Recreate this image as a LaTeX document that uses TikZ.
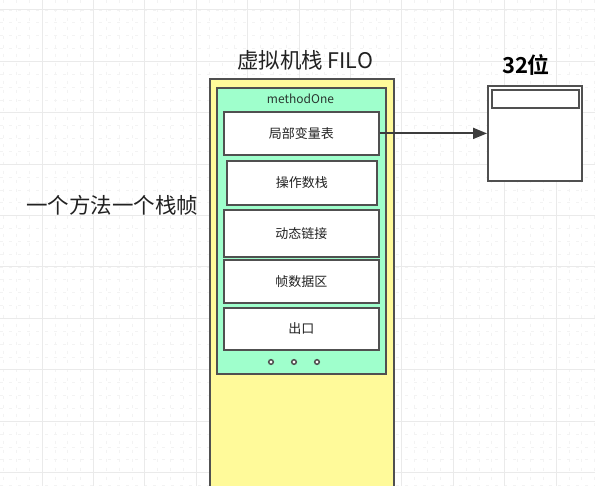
\documentclass[tikz,border=0pt]{standalone}
\usepackage{fontspec}
\newfontfamily\cjk{Noto Sans CJK SC}[BoldFont={Noto Sans CJK SC Bold}]
\usetikzlibrary{arrows.meta}
\definecolor{stackyellow}{HTML}{FFFA9A}
\definecolor{framegreen}{HTML}{9FFFCC}
\definecolor{edge}{HTML}{505050}
\definecolor{txt}{HTML}{222222}
\definecolor{gridmajor}{HTML}{EAEAEA}
\definecolor{gridminor}{HTML}{F3F3F3}
\tikzset{
  box/.style={draw=edge, line width=1.8pt, anchor=north west, inner sep=0pt},
  slot/.style={box, fill=white},
  lbl/.style={text=txt, font=\cjk\fontsize{13}{15}\selectfont},
  dotc/.style={draw=edge, line width=1.5pt, fill=white},
  conn/.style={draw=edge!75!black, line width=2pt, -{Triangle[length=14pt,width=11pt]}},
}
\begin{document}
\begin{tikzpicture}[x=1pt,y=-1pt]
\useasboundingbox (0,0) rectangle (595,486);
\fill[white] (0,0) rectangle (595,486);
% grid
\foreach \k in {0,...,50} {
  \draw[gridminor, line width=0.7pt, dash pattern=on 3pt off 6pt] ({42-51.4+12.85*\k},0) -- ({42-51.4+12.85*\k},486);
  \draw[gridminor, line width=0.7pt, dash pattern=on 3pt off 6pt] (0,{10+12.85*\k}) -- (595,{10+12.85*\k});
}
\foreach \k in {0,...,12} {
  \draw[gridmajor, line width=1pt] ({42+51.4*\k},0) -- ({42+51.4*\k},486);
  \draw[gridmajor, line width=1pt] (0,{10+51.4*\k}) -- (595,{10+51.4*\k});
}
\begin{scope}
\clip (0,0) rectangle (595,486);
\node[box, fill=stackyellow, minimum width=184pt, minimum height=420pt] (stack) at (209,78) {};
\end{scope}
\node[box, fill=framegreen, minimum width=169pt, minimum height=286pt] (frame) at (216,87) {};
\node[font=\cjk\fontsize{12}{14}\selectfont, text=txt!80!framegreen!70!black] (mname) at (300.5,99) {methodOne};
\node[slot, minimum width=155pt, minimum height=43pt] (lv) at (223,111) {};
\node[lbl] at (lv.center) {局部变量表};
\node[slot, minimum width=150pt, minimum height=44pt] (ops) at (226,160) {};
\node[lbl] at (ops.center) {操作数栈};
\node[slot, minimum width=155pt, minimum height=47pt] (dyn) at (223,209) {};
\node[lbl] at (dyn.center) {动态链接};
\node[slot, minimum width=155pt, minimum height=43pt] (fd) at (223,259) {};
\node[lbl] at (fd.center) {帧数据区};
\node[slot, minimum width=155pt, minimum height=42pt] (ex) at (223,307) {};
\node[lbl] at (ex.center) {出口};
\draw[dotc] (271,362) circle (2.3);
\draw[dotc] (294,362) circle (2.3);
\draw[dotc] (317,362) circle (2.3);
% title
\node[text=txt, font=\cjk\fontsize{21.5}{25}\selectfont] (title) at (305,60) {虚拟机栈 FILO};
% memory box
\node[slot, minimum width=94pt, minimum height=95pt] (mem) at (487,85) {};
\node[slot, minimum width=87pt, minimum height=18pt] (word) at (491,89) {};
\node[text=black, font=\cjk\bfseries\fontsize{22}{26}\selectfont] (bits) at (526,65) {32位};
\draw[conn] (lv.east) -- (mem.west);
% left label
\node[text=txt, font=\cjk\fontsize{21.5}{25}\selectfont] (note) at (112.5,205) {一个方法一个栈帧};
\end{tikzpicture}
\end{document}
